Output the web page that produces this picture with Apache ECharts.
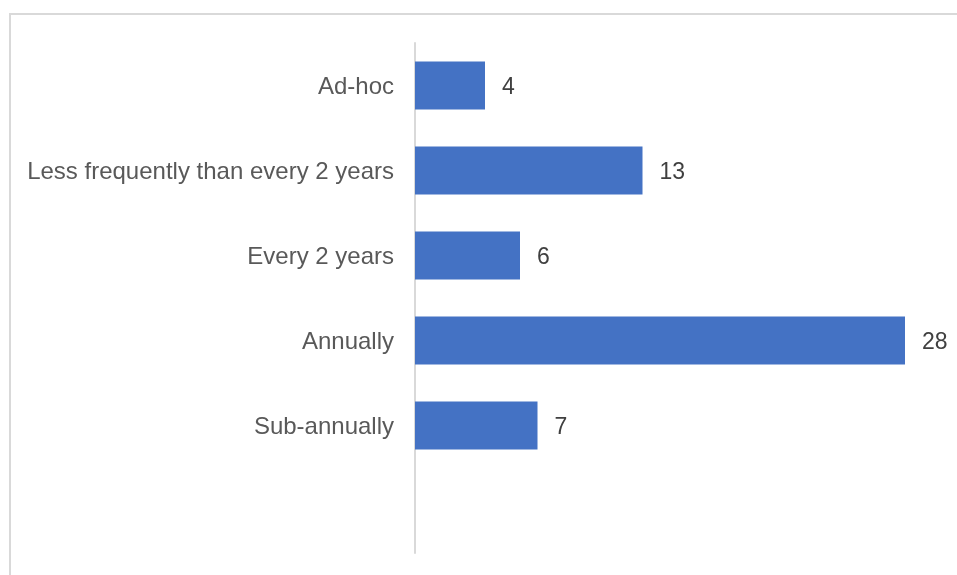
<!DOCTYPE html>
<html>
<head>
<meta charset="utf-8">
<style>
  html, body { margin: 0; padding: 0; background: #fff; }
  #chart { width: 957px; height: 575px; }
</style>
<script src="https://cdn.jsdelivr.net/npm/echarts@6/dist/echarts.min.js"></script>
</head>
<body>
<div id="chart"></div>
<script>
// Review frequency categories (top to bottom); the last slot is left blank
const categories = ['Ad-hoc', 'Less frequently than every 2 years', 'Every 2 years', 'Annually', 'Sub-annually', ''];
const counts = [4, 13, 6, 28, 7, null];

const chart = echarts.init(document.getElementById('chart'), null, { renderer: 'canvas' });

chart.setOption({
  animation: false,
  backgroundColor: '#ffffff',
  graphic: [{
    type: 'rect',
    shape: { x: 10, y: 14, width: 1000, height: 600 },
    style: { fill: 'none', stroke: '#d9d9d9', lineWidth: 2 },
    silent: true
  }],
  grid: { left: 415, right: 17, top: 43, bottom: 22, containLabel: false },
  xAxis: {
    type: 'value',
    min: 0,
    max: 30,
    show: false
  },
  yAxis: {
    type: 'category',
    data: categories,
    inverse: true,
    axisLine: { show: true, lineStyle: { color: '#d9d9d9', width: 2 } },
    axisTick: { show: false },
    axisLabel: {
      margin: 21,
      formatter: (v) => v ? '{c|' + v + '}' : '',
      rich: {
        c: {
          color: '#595959',
          fontFamily: 'Liberation Sans, Arial, sans-serif',
          fontSize: 24,
          padding: [4, 0, 0, 0]
        }
      }
    }
  },
  series: [{
    type: 'bar',
    data: counts,
    barWidth: 48,
    itemStyle: { color: '#4472c4' },
    label: {
      show: true,
      position: 'right',
      distance: 17,
      color: '#404040',
      fontFamily: 'Liberation Sans, Arial, sans-serif',
      fontSize: 23,
      offset: [0, 2]
    }
  }]
});
</script>
</body>
</html>
